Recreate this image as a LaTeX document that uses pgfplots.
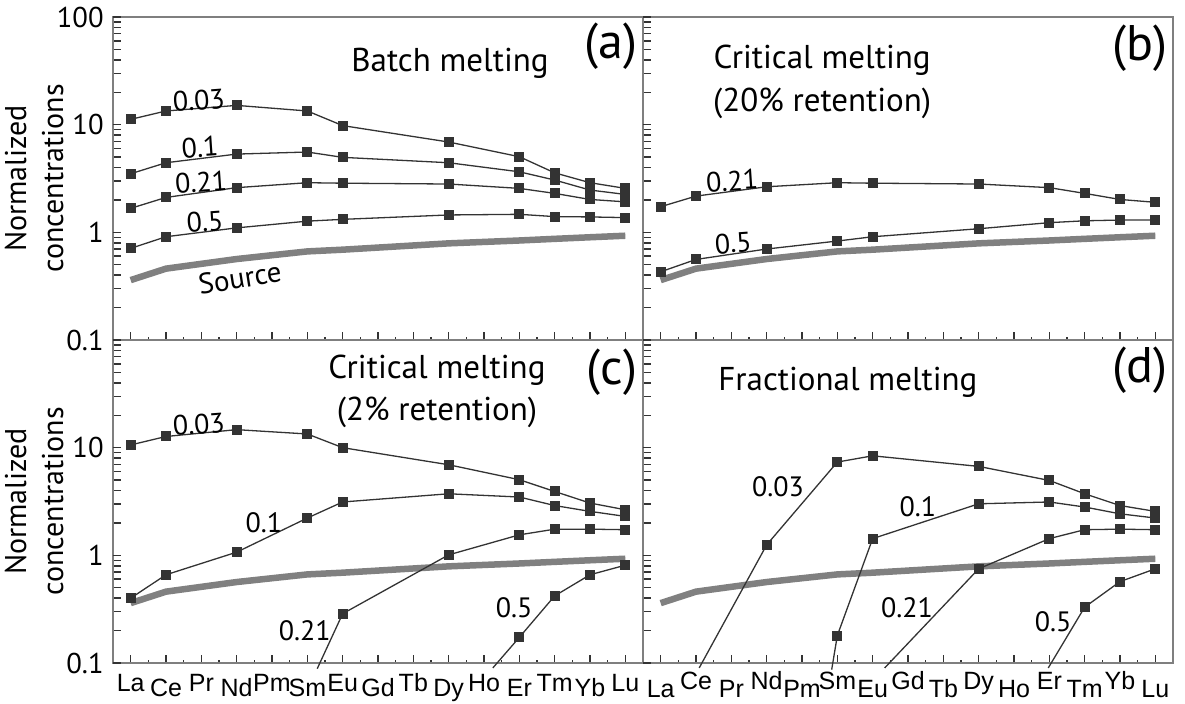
\documentclass[border=0pt]{standalone}
\usepackage{fontspec}
\setmainfont{PT Sans}
\newfontfamily\arialf{Liberation Sans}
\usepackage{pgfplots}
\pgfplotsset{compat=1.18}
\definecolor{framec}{HTML}{7F7F7F}
\definecolor{ser}{HTML}{333333}
\definecolor{src}{HTML}{808080}
\newcommand\lo[1]{\raisebox{-2.75pt}{#1}}
\newcommand\lod[1]{\raisebox{-4.25pt}{#1}}
\pgfplotsset{
  every axis/.append style={
    width=265pt, height=161.5pt, scale only axis,
    ymode=log, ymin=0.1, ymax=100, xmin=-0.5, xmax=14.5,
    ytick={0.2,0.3,0.4,0.5,0.6,0.7,0.8,0.9,2,3,4,5,6,7,8,9,20,30,40,50,60,70,80,90},
    yticklabels={},
    extra y ticks={0.1,1,10,100},
    yminorticks=false,
    xtick={0,...,14}, minor x tick num=1,
    xtick pos=bottom, ytick pos=left,
    tick align=inside,
    major tick length=4pt, minor tick length=1.75pt,
    tick style={color=ser, line width=0.75pt},
    axis line style={framec, line width=1pt},
    clip=false,
    yticklabel style={font=\fontsize{14.3}{16}\selectfont, inner sep=0pt, xshift=-4.5pt},
    xticklabel style={font=\arialf\fontsize{12.5}{14}\selectfont, text height=9pt, text depth=0pt, anchor=north, inner sep=0pt},
    ylabel style={font=\fontsize{15}{18.5}\selectfont, align=center, at={(axis description cs:-0.08,0.5)}, anchor=south},
  },
}
\tikzset{
  pLine/.style={color=ser, line width=0.65pt, mark=square*, mark size=2.25pt, mark options={fill=ser, draw=ser, line width=0pt}},
  pLead/.style={color=ser, line width=0.65pt},
  pSrc/.style={color=src, line width=3.25pt},
  tLab/.style={font=\fontsize{14}{16}\selectfont, inner sep=0pt},
  tTtl/.style={font=\fontsize{16.5}{20}\selectfont, inner sep=0pt, align=center},
  tPl/.style={font=\fontsize{25}{28}\selectfont, inner sep=0pt},
}
\begin{document}
\begin{tikzpicture}
\useasboundingbox (-56.5pt,8.5pt) rectangle (536pt,-343.5pt);
% (a)
\begin{axis}[at={(0pt,0pt)}, anchor=north west,
  xticklabels={},
  extra y tick labels={0.1,1,10,100},
  ylabel={Normalized\\concentrations}]
\addplot[pSrc, mark=none] coordinates {(0,0.36)(1,0.46)(3,0.565)(5,0.665)(6,0.69)(9,0.79)(11,0.84)(12,0.87)(13,0.90)(14,0.93)};
\addplot[pLine] coordinates {(0,11.2)(1,13.4)(3,15.1)(5,13.4)(6,9.8)(9,6.9)(11,5.04)(12,3.57)(13,2.89)(14,2.56)};
\addplot[pLine] coordinates {(0,3.5)(1,4.43)(3,5.33)(5,5.57)(6,4.97)(9,4.43)(11,3.65)(12,3.06)(13,2.47)(14,2.25)};
\addplot[pLine] coordinates {(0,1.67)(1,2.11)(3,2.6)(5,2.89)(6,2.86)(9,2.81)(11,2.56)(12,2.30)(13,2.02)(14,1.92)};
\addplot[pLine] coordinates {(0,0.71)(1,0.91)(3,1.10)(5,1.27)(6,1.32)(9,1.45)(11,1.47)(12,1.40)(13,1.39)(14,1.37)};
\node[tTtl] at (axis cs:9.04,37.4) {Batch melting};
\node[tPl] at (axis cs:13.59,53.8) {(a)};
\node[tLab, rotate=4] at (axis cs:1.93,16.9) {0.03};
\node[tLab, rotate=4] at (axis cs:1.96,6.2) {0.1};
\node[tLab, rotate=4] at (axis cs:1.99,2.93) {0.21};
\node[tLab, rotate=4] at (axis cs:2.10,1.25) {0.5};
\node[tLab, rotate=9, font=\fontsize{14.5}{16}\selectfont] at (axis cs:3.09,0.377) {Source};
\end{axis}
% (b)
\begin{axis}[at={(265pt,0pt)}, anchor=north west,
  xticklabels={},
  extra y tick labels={}]
\addplot[pSrc, mark=none] coordinates {(0,0.36)(1,0.46)(3,0.565)(5,0.665)(6,0.69)(9,0.79)(11,0.84)(12,0.87)(13,0.90)(14,0.93)};
\addplot[pLine] coordinates {(0,1.73)(1,2.17)(3,2.65)(5,2.89)(6,2.86)(9,2.81)(11,2.6)(12,2.30)(13,2.02)(14,1.9)};
\addplot[pLine] coordinates {(0,0.43)(1,0.56)(3,0.70)(5,0.83)(6,0.91)(9,1.08)(11,1.23)(12,1.28)(13,1.30)(14,1.30)};
\node[tTtl] at (axis cs:4.57,39.9) {Critical melting};
\node[tTtl] at (axis cs:4.57,15.9) {(20\% retention)};
\node[tPl] at (axis cs:13.57,51.5) {(b)};
\node[tLab, rotate=4] at (axis cs:2.02,3.0) {0.21};
\node[tLab, rotate=4] at (axis cs:2.05,0.796) {0.5};
\end{axis}
% (c)
\begin{axis}[at={(0pt,-161.5pt)}, anchor=north west,
  extra y tick labels={0.1,1,10,{}},
  ylabel={Normalized\\concentrations},
  xticklabels={La,\lo{Ce},Pr,\lo{Nd},Pm,\lo{Sm},Eu,\lo{Gd},Tb,\lo{Dy},Ho,\lo{Er},Tm,\lo{Yb},Lu},
  xticklabel style={yshift=-5pt}]
\addplot[pSrc, mark=none] coordinates {(0,0.36)(1,0.46)(3,0.565)(5,0.665)(6,0.69)(9,0.79)(11,0.84)(12,0.87)(13,0.90)(14,0.93)};
\addplot[pLine] coordinates {(0,10.6)(1,12.7)(3,14.7)(5,13.4)(6,10.0)(9,6.94)(11,5.04)(12,3.92)(13,3.06)(14,2.65)};
\addplot[pLine] coordinates {(0,0.40)(1,0.66)(3,1.07)(5,2.22)(6,3.13)(9,3.73)(11,3.48)(12,2.90)(13,2.56)(14,2.30)};
\addplot[pLead, mark=none] coordinates {(5.28,0.0885)(6,0.287)};
\addplot[pLine] coordinates {(6,0.287)(9,1.01)(11,1.55)(12,1.75)(13,1.75)(14,1.73)};
\addplot[pLead, mark=none] coordinates {(10.25,0.090)(11,0.173)};
\addplot[pLine] coordinates {(11,0.173)(12,0.42)(13,0.66)(14,0.81)};
\node[tTtl] at (axis cs:8.67,52.6) {Critical melting};
\node[tTtl] at (axis cs:8.67,21.4) {(2\% retention)};
\node[tPl] at (axis cs:13.62,50.5) {(c)};
\node[tLab, rotate=4] at (axis cs:1.93,16.6) {0.03};
\node[tLab] at (axis cs:3.77,2.0) {0.1};
\node[tLab] at (axis cs:4.93,0.198) {0.21};
\node[tLab] at (axis cs:10.85,0.324) {0.5};
\end{axis}
% (d)
\begin{axis}[at={(265pt,-161.5pt)}, anchor=north west,
  extra y tick labels={},
  xticklabels={\lod{La},Ce,\lod{Pr},Nd,\lod{Pm},Sm,\lod{Eu},Gd,\lod{Tb},Dy,\lod{Ho},Er,\lod{Tm},Yb,\lod{Lu}},
  xticklabel style={yshift=-4pt}]
\addplot[pSrc, mark=none] coordinates {(0,0.36)(1,0.46)(3,0.565)(5,0.665)(6,0.69)(9,0.79)(11,0.84)(12,0.87)(13,0.90)(14,0.93)};
\addplot[pLead, mark=none] coordinates {(1.09,0.090)(3,1.25)};
\addplot[pLine] coordinates {(3,1.25)(5,7.35)(6,8.4)(9,6.7)(11,4.96)(12,3.73)(13,2.9)(14,2.56)};
\addplot[pLead, mark=none] coordinates {(4.84,0.0867)(5,0.18)};
\addplot[pLine] coordinates {(5,0.18)(6,1.43)(9,3.01)(11,3.13)(12,2.81)(13,2.43)(14,2.22)};
\addplot[pLead, mark=none] coordinates {(6.34,0.090)(9,0.75)};
\addplot[pLine] coordinates {(9,0.75)(11,1.43)(12,1.73)(13,1.75)(14,1.73)};
\addplot[pLead, mark=none] coordinates {(10.97,0.090)(12,0.33)};
\addplot[pLine] coordinates {(12,0.33)(13,0.57)(14,0.75)};
\node[tTtl] at (axis cs:5.30,40.7) {Fractional melting};
\node[tPl] at (axis cs:13.57,52.6) {(d)};
\node[tLab] at (axis cs:3.32,4.31) {0.03};
\node[tLab] at (axis cs:7.28,2.81) {0.1};
\node[tLab] at (axis cs:6.97,0.324) {0.21};
\node[tLab] at (axis cs:11.11,0.240) {0.5};
\end{axis}
\end{tikzpicture}
\end{document}
